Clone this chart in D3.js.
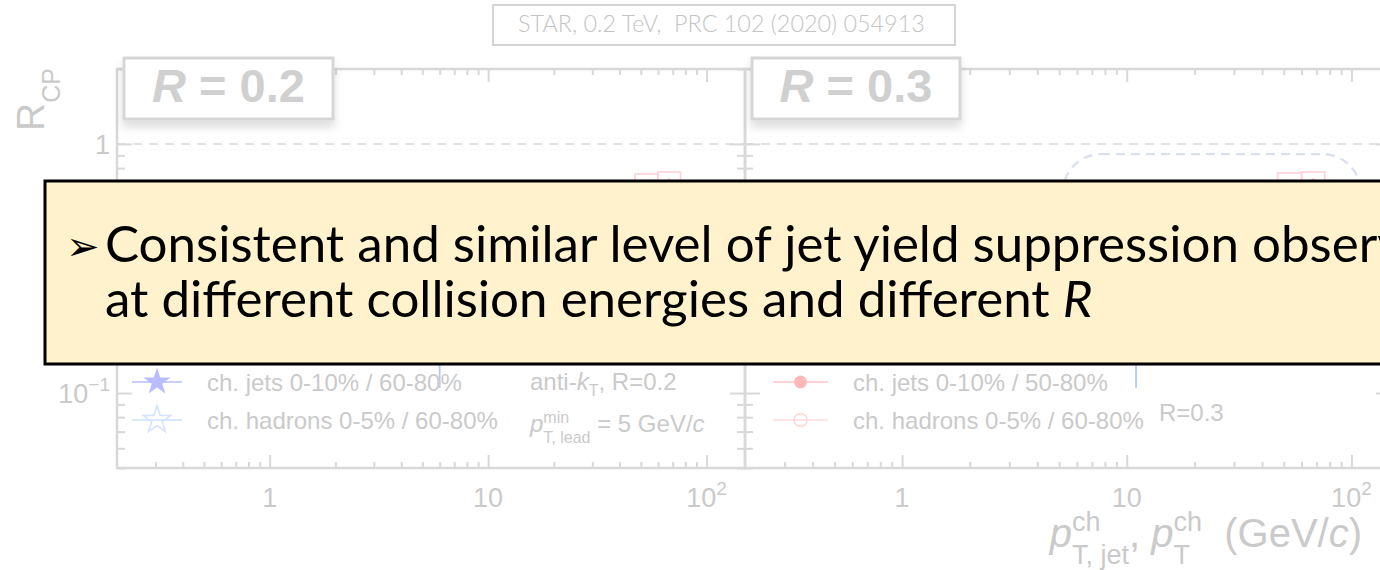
<!DOCTYPE html>
<html><head><meta charset="utf-8">
<script src="https://cdn.jsdelivr.net/npm/d3@7"></script>
<style>
body{margin:0;background:#fff;}
svg{display:block;}
text{white-space:pre;}
</style>
</head><body>
<svg id="c" width="1380" height="570"></svg>
<script>
// ---------- axis tick values ----------
const xMajor = [1, 10, 100];
const xMajorLabels = [["1", null], ["10", null], ["10", "2"]];
const xMinor = [0.3, 0.4, 0.5, 0.6, 0.7, 0.8, 0.9, 2, 3, 4, 5, 6, 7, 8, 9, 20, 30, 40, 50, 60, 70, 80, 90];
const yMajor = [0.1, 1];
const yMajorLabels = [["10", "\u22121"], ["1", null]];
const yMinor = [0.05, 0.06, 0.07, 0.08, 0.09, 0.2, 0.3, 0.4, 0.5, 0.6, 0.7, 0.8, 0.9, 2];

// ---------- R = 0.2 panel ----------
const jetsR02Pt    = [6.0, 8.0, 10.0, 12.5, 15.5, 19.0, 24.0];
const jetsR02Rcp   = [0.30, 0.34, 0.37, 0.40, 0.42, 0.44, 0.47];
const jetsR02ErrLo = [0.195, 0.06, 0.05, 0.05, 0.05, 0.06, 0.07];
const jetsR02ErrHi = [0.10, 0.06, 0.05, 0.05, 0.05, 0.06, 0.07];

const hadPt  = [0.6, 0.8, 1.0, 1.5, 2.0, 2.5, 3.0, 4.0, 5.0, 6.0, 8.0, 10.0];
const hadRcp = [0.30, 0.38, 0.45, 0.55, 0.62, 0.60, 0.52, 0.38, 0.28, 0.24, 0.22, 0.22];

// higher-pT jet points with systematic boxes
const hiBinLo   = [47, 60];
const hiBinHi   = [60, 76];
const hiL_Rcp   = [0.68, 0.69];
const hiL_Sys   = [0.078, 0.082];
const hiL_Stat  = [0.03, 0.04];

// ---------- R = 0.3 panel ----------
const jetsR03Pt  = [7.0, 9.0, 11.0, 14.0, 17.5, 22.0, 27.0];
const jetsR03Rcp = [0.30, 0.34, 0.37, 0.40, 0.43, 0.46, 0.50];
const jetsR03Err = [0.06, 0.05, 0.05, 0.05, 0.05, 0.06, 0.07];

const refR03Pt    = [11.0];
const refR03Rcp   = [0.30];
const refR03ErrLo = [0.195];

const hiR_Rcp  = [0.685, 0.69];
const hiR_Sys  = [0.08, 0.082];
const hiR_Stat = [0.03, 0.04];

// highlighted region in the R = 0.3 panel (data units)
const hlX = [5.2, 110];
const hlY = [0.2, 0.91];

// ---------- text ----------
const headerText = "STAR, 0.2 TeV,  PRC 102 (2020) 054913";
const calloutLine1 = "Consistent and similar level of jet yield suppression observed";
const calloutLine2a = "at different collision energies and different ";
const calloutLine2b = "R";

// ---------- layout ----------
const svg = d3.select("#c");
const Y0 = 69, Y1 = 468;
const panels = [
  {x0: 117, x1: 745},
  {x0: 745, x1: 1391}
];
const y = d3.scaleLog().domain([0.05, 2]).range([Y1, Y0]);
panels.forEach(p => p.x = d3.scaleLog().domain([0.2, 150]).range([p.x0, p.x1]));

const GRAY = "#d8d8d8";
const TXT = "#cacaca";
const AX_FONT = "'Liberation Sans', Arial, sans-serif";

const defs = svg.append("defs");
const sh = defs.append("filter").attr("id", "sh").attr("x", "-20%").attr("y", "-30%").attr("width", "140%").attr("height", "180%");
sh.append("feDropShadow").attr("dx", 0).attr("dy", 7).attr("stdDeviation", 5)
  .attr("flood-color", "#000").attr("flood-opacity", 0.13);
panels.forEach((p, i) => {
  defs.append("clipPath").attr("id", "clip" + i).append("rect")
    .attr("x", p.x0).attr("y", Y0).attr("width", p.x1 - p.x0).attr("height", Y1 - Y0);
});

// rich text: sequence of pieces; {sup, sub} pieces are stacked
function rich(parent, x, yb, segs, anchor, fill, ff) {
  const g = parent.append("g").attr("fill", fill).attr("font-family", ff);
  let cx = 0;
  const put = (p) => {
    const t = g.append("text").attr("x", cx).attr("y", p.dy || 0).attr("font-size", p.fs).text(p.t);
    if (p.it) t.attr("font-style", "italic");
    if (p.bold) t.attr("font-weight", "bold");
    return t.node().getComputedTextLength();
  };
  segs.forEach(s => {
    if (s.sup || s.sub) {
      let w = 0;
      if (s.sup) w = Math.max(w, put(s.sup));
      if (s.sub) w = Math.max(w, put(s.sub));
      cx += w;
    } else {
      cx += put(s);
    }
  });
  const off = anchor === "end" ? -cx : anchor === "middle" ? -cx / 2 : 0;
  g.attr("transform", `translate(${x + off},${yb})`);
  return g;
}

// ---------- header box ----------
{
  const g = svg.append("g");
  const t = g.append("text").attr("font-family", "Lato, 'Open Sans', sans-serif").attr("font-weight", 300)
    .attr("font-size", 20).attr("fill", "#c4c4c4").text(headerText);
  const w = t.node().getComputedTextLength();
  const fs = 20 * 407 / w;
  t.attr("font-size", fs).attr("x", 518).attr("y", 32);
  g.append("rect").attr("x", 493).attr("y", 5).attr("width", 462).attr("height", 40)
    .attr("fill", "none").attr("stroke", "#d4d4d4").attr("stroke-width", 2);
}

// ---------- R_CP axis title ----------
{
  const g = svg.append("g").attr("transform", "translate(44,131) rotate(-90)");
  rich(g, 0, 0, [{t: "R", fs: 39}, {sub: {t: "CP", fs: 25, dy: 16}}], "start", TXT, AX_FONT);
}

// ---------- panels ----------
panels.forEach((p, i) => {
  const g = svg.append("g");
  const xs = p.x;

  // reference line at R_CP = 1
  g.append("line").attr("x1", p.x0).attr("x2", p.x1).attr("y1", y(1)).attr("y2", y(1))
    .attr("stroke", "#dadada").attr("stroke-width", 1.6).attr("stroke-dasharray", "9,7");

  // frame
  g.append("rect").attr("x", p.x0).attr("y", Y0).attr("width", p.x1 - p.x0).attr("height", Y1 - Y0)
    .attr("fill", "none").attr("stroke", GRAY).attr("stroke-width", 2.5);

  const axes = [
    [d3.axisBottom(xs), `translate(0,${Y1})`, xMajor, xMinor, 13, 6],
    [d3.axisTop(xs), `translate(0,${Y0})`, xMajor, xMinor, 13, 6],
    [d3.axisLeft(y), `translate(${p.x0},0)`, yMajor, yMinor, 15, 8],
    [d3.axisRight(y), `translate(${p.x1},0)`, yMajor, yMinor, 15, 8]
  ];
  axes.forEach(([ax, tr, maj, min, lM, lm]) => {
    [[maj, lM], [min, lm]].forEach(([vals, len]) => {
      const a = g.append("g").attr("transform", tr)
        .call(ax.tickValues(vals).tickSize(-len).tickFormat(""));
      a.select(".domain").remove();
      a.selectAll("line").attr("stroke", GRAY).attr("stroke-width", 2);
    });
  });

  // x tick labels
  xMajor.forEach((v, k) => {
    const [base, sup] = xMajorLabels[k];
    const segs = [{t: base, fs: 27}];
    if (sup) segs.push({sup: {t: sup, fs: 19, dy: -12}});
    rich(g, xs(v), 507, segs, "middle", TXT, AX_FONT);
  });
});

// y tick labels (left of first panel)
yMajor.forEach((v, k) => {
  const [base, sup] = yMajorLabels[k];
  const segs = [{t: base, fs: 27}];
  if (sup) segs.push({sup: {t: sup, fs: 19, dy: -12}});
  rich(svg, 110, y(v) + 10, segs, "end", TXT, AX_FONT);
});

// ---------- data ----------
const star = d3.symbol().type(d3.symbolStar);
const dataL = svg.append("g").attr("clip-path", "url(#clip0)");
const dataR = svg.append("g").attr("clip-path", "url(#clip1)");
const xL = panels[0].x, xR = panels[1].x;

function sysBoxes(g, xs, vals, sys, stat, col) {
  vals.forEach((v, k) => {
    g.append("rect").attr("x", xs(hiBinLo[k])).attr("width", xs(hiBinHi[k]) - xs(hiBinLo[k]))
      .attr("y", y(v + sys[k])).attr("height", y(v - sys[k]) - y(v + sys[k]))
      .attr("fill", "none").attr("stroke", col).attr("stroke-width", 1.6);
    const xc = Math.sqrt(hiBinLo[k] * hiBinHi[k]);
    g.append("line").attr("x1", xs(xc)).attr("x2", xs(xc)).attr("y1", y(v + stat[k])).attr("y2", y(v - stat[k]))
      .attr("stroke", col).attr("stroke-width", 1.6);
    g.append("circle").attr("cx", xs(xc)).attr("cy", y(v)).attr("r", 5).attr("fill", col);
  });
}

// R=0.2: hadrons (open stars), jets (filled stars)
hadPt.forEach((pt, k) => {
  dataL.append("path").attr("d", star.size(170)()).attr("transform", `translate(${xL(pt)},${y(hadRcp[k])})`)
    .attr("fill", "none").attr("stroke", "#cfe2ff").attr("stroke-width", 1.5);
});
jetsR02Pt.forEach((pt, k) => {
  dataL.append("line").attr("x1", xL(pt)).attr("x2", xL(pt))
    .attr("y1", y(jetsR02Rcp[k] + jetsR02ErrHi[k])).attr("y2", y(jetsR02Rcp[k] - jetsR02ErrLo[k]))
    .attr("stroke", "#aecbf2").attr("stroke-width", 1.8);
  dataL.append("path").attr("d", star.size(170)()).attr("transform", `translate(${xL(pt)},${y(jetsR02Rcp[k])})`)
    .attr("fill", "#b9bcff");
});
sysBoxes(dataL, xL, hiL_Rcp, hiL_Sys, hiL_Stat, "#ffd0d6");

// R=0.3: highlight, hadrons (open circles), jets (filled circles)
dataR.append("rect").attr("x", xR(hlX[0])).attr("width", xR(hlX[1]) - xR(hlX[0]))
  .attr("y", y(hlY[1])).attr("height", y(hlY[0]) - y(hlY[1])).attr("rx", 38).attr("ry", 38)
  .attr("fill", "none").attr("stroke", "#dbe0ee").attr("stroke-width", 2.4).attr("stroke-dasharray", "9,6");
hadPt.forEach((pt, k) => {
  dataR.append("circle").attr("cx", xR(pt)).attr("cy", y(hadRcp[k])).attr("r", 6)
    .attr("fill", "none").attr("stroke", "#ffd6d6").attr("stroke-width", 1.5);
});
jetsR03Pt.forEach((pt, k) => {
  dataR.append("line").attr("x1", xR(pt)).attr("x2", xR(pt))
    .attr("y1", y(jetsR03Rcp[k] + jetsR03Err[k])).attr("y2", y(jetsR03Rcp[k] - jetsR03Err[k]))
    .attr("stroke", "#ffc0c0").attr("stroke-width", 1.6);
  dataR.append("circle").attr("cx", xR(pt)).attr("cy", y(jetsR03Rcp[k])).attr("r", 6.5).attr("fill", "#ffb8b8");
});
refR03Pt.forEach((pt, k) => {
  dataR.append("line").attr("x1", xR(pt)).attr("x2", xR(pt))
    .attr("y1", y(refR03Rcp[k])).attr("y2", y(refR03Rcp[k] - refR03ErrLo[k]))
    .attr("stroke", "#aecbf2").attr("stroke-width", 1.8);
});
sysBoxes(dataR, xR, hiR_Rcp, hiR_Sys, hiR_Stat, "#ffd0d6");

// ---------- legends ----------
const LEG = 24;
function legRow(xl0, xl1, yc, marker, label) {
  svg.append("line").attr("x1", xl0).attr("x2", xl1).attr("y1", yc).attr("y2", yc)
    .attr("stroke", marker.line).attr("stroke-width", 1.6);
  if (marker.kind === "star") {
    svg.append("path").attr("d", star.size(230)()).attr("transform", `translate(${(xl0 + xl1) / 2},${yc})`)
      .attr("fill", marker.fill).attr("stroke", marker.stroke).attr("stroke-width", 1.5);
  } else {
    svg.append("circle").attr("cx", (xl0 + xl1) / 2).attr("cy", yc).attr("r", 6.5)
      .attr("fill", marker.fill).attr("stroke", marker.stroke).attr("stroke-width", 1.5);
  }
  svg.append("text").attr("x", xl1 + 25).attr("y", yc + 9).attr("font-family", AX_FONT)
    .attr("font-size", LEG).attr("fill", TXT).text(label);
}
legRow(132, 182, 382, {kind: "star", fill: "#b9bcff", stroke: "none", line: "#b9bcff"}, "ch. jets 0-10% / 60-80%");
legRow(132, 182, 420, {kind: "star", fill: "none", stroke: "#cfe2ff", line: "#cfe2ff"}, "ch. hadrons 0-5% / 60-80%");
legRow(773, 828, 382, {kind: "circle", fill: "#ffb8b8", stroke: "none", line: "#ffc4c4"}, "ch. jets 0-10% / 50-80%");
legRow(773, 828, 420, {kind: "circle", fill: "none", stroke: "#ffd6d6", line: "#ffdcdc"}, "ch. hadrons 0-5% / 60-80%");

rich(svg, 530, 390, [{t: "anti-", fs: LEG}, {t: "k", fs: LEG, it: true}, {sub: {t: "T", fs: 16, dy: 6}}, {t: ", R=0.2", fs: LEG}],
  "start", TXT, AX_FONT);
rich(svg, 530, 432, [{t: "p", fs: LEG, it: true}, {sup: {t: "min", fs: 16, dy: -9}, sub: {t: "T, lead", fs: 16, dy: 11}},
  {t: " = 5 GeV/", fs: LEG}, {t: "c", fs: LEG, it: true}], "start", TXT, AX_FONT);
svg.append("text").attr("x", 1159).attr("y", 421).attr("font-family", AX_FONT)
  .attr("font-size", LEG).attr("fill", TXT).text("R=0.3");

// x axis title
rich(svg, 1362, 547, [
  {t: "p", fs: 40, it: true}, {sup: {t: "ch", fs: 27, dy: -16}, sub: {t: "T, jet", fs: 27, dy: 17}},
  {t: ", ", fs: 40}, {t: "p", fs: 40, it: true}, {sup: {t: "ch", fs: 27, dy: -16}, sub: {t: "T", fs: 27, dy: 17}},
  {t: "  (GeV/", fs: 40}, {t: "c", fs: 40, it: true}, {t: ")", fs: 40}
], "end", TXT, AX_FONT);

// ---------- jet-radius labels ----------
[[0, "0.2", 124, 209], [1, "0.3", 752, 208]].forEach(([i, r, bx, bw]) => {
  const g = svg.append("g");
  g.append("rect").attr("x", bx).attr("y", 58).attr("width", bw).attr("height", 61)
    .attr("fill", "#fff").attr("stroke", "#d6d6d6").attr("stroke-width", 3).attr("filter", "url(#sh)");
  rich(g, bx + bw / 2, 102, [{t: "R", fs: 47, it: true, bold: true}, {t: " = " + r, fs: 47, bold: true}],
    "middle", "#d0d0d0", AX_FONT);
});

// ---------- callout ----------
{
  const g = svg.append("g");
  g.append("rect").attr("x", 45).attr("y", 181).attr("width", 1400).attr("height", 183)
    .attr("fill", "#fff2cc").attr("stroke", "#000").attr("stroke-width", 3);
  const FF = "Lato, 'Noto Sans', sans-serif";
  const TX = 105;
  // size the text so the second line runs to its full width
  const probe = g.append("text").attr("font-family", FF).attr("font-size", 30).text(calloutLine2a + calloutLine2b);
  const fs = 30 * 990 / probe.node().getComputedTextLength();
  probe.remove();
  g.append("text").attr("x", 66).attr("y", 260).attr("font-family", "'DejaVu Sans', sans-serif")
    .attr("font-size", 40).attr("fill", "#000").text("\u27A2");
  g.append("text").attr("x", TX).attr("y", 262).attr("font-family", FF).attr("font-size", fs)
    .attr("fill", "#000").text(calloutLine1);
  const t2 = g.append("text").attr("x", TX).attr("y", 317).attr("font-family", FF).attr("font-size", fs).attr("fill", "#000");
  t2.append("tspan").text(calloutLine2a);
  t2.append("tspan").attr("font-style", "italic").text(calloutLine2b);
}
</script>
</body></html>
